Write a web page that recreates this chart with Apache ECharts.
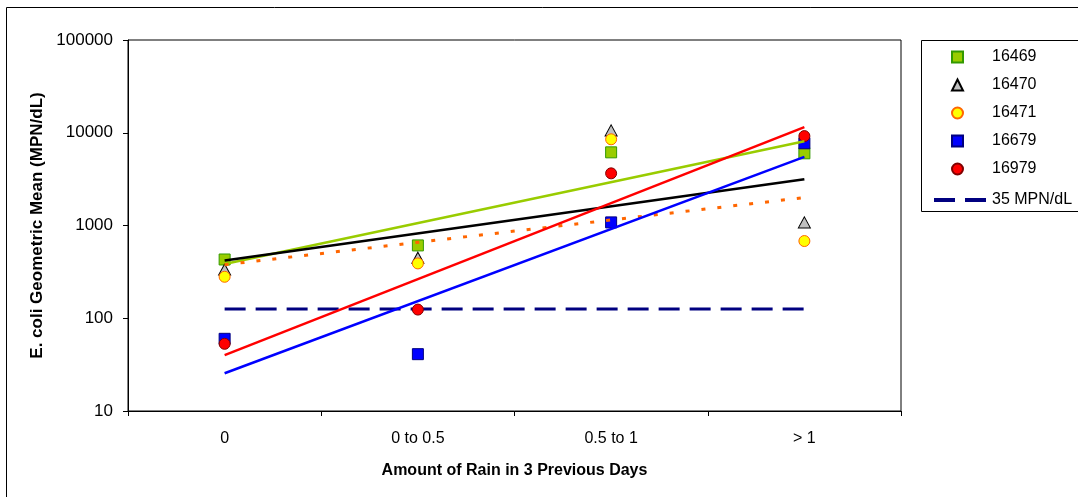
<!DOCTYPE html>
<html>
<head>
<meta charset="utf-8">
<script src="https://cdn.jsdelivr.net/npm/echarts@6/dist/echarts.min.js"></script>
<style>
  html, body { margin: 0; padding: 0; background: #fff; }
  #chart { width: 1078px; height: 497px; }
</style>
</head>
<body>
<div id="chart"></div>
<script>
// categories on the x axis
const categories = ['0', '0 to 0.5', '0.5 to 1', '> 1'];

// geometric means per station (MPN/dL)
const s16469 = [430, 610, 6150, 6000];
const s16470 = [335, 450, 10600, 1080];
const s16471 = [280, 390, 8500, 680];
const s16679 = [60, 41, 1080, 7700];
const s16979 = [53, 124, 3650, 9200];

// standard line
const standardValue = 126;

// trendline ends (first and last category)
const trendStart = [385, 420, 378, 25.5, 40];
const trendEnd = [8100, 3150, 2000, 5500, 11500];

const stations = ['16469', '16470', '16471', '16679', '16979'];
const stationData = [s16469, s16470, s16471, s16679, s16979];
const markerShape = ['rect', 'triangle', 'circle', 'rect', 'circle'];
const markerFill = ['#99CC00', '#C0C0C0', '#FFFF00', '#0000FF', '#FF0000'];
const markerBorder = ['#339900', '#000000', '#FF6600', '#000080', '#800000'];
const trendColor = ['#99CC00', '#000000', '#FF6600', '#0000FF', '#FF0000'];

const font = 'Liberation Sans, Arial, sans-serif';

let chart = echarts.init(document.getElementById('chart'), null, {renderer: 'canvas'});

let series = [];

// 35 MPN/dL dashed line
series.push({
  name: '35 MPN/dL',
  type: 'line',
  data: categories.map(() => standardValue),
  symbol: 'none',
  z: 1,
  lineStyle: {color: '#000080', width: 3, type: [21, 10]},
  itemStyle: {color: '#000080'},
  silent: true,
});

// station points
stations.forEach((name, i) => {
  series.push({
    name: name,
    type: 'scatter',
    data: stationData[i],
    symbol: markerShape[i],
    symbolSize: markerShape[i] === 'triangle' ? [12, 11] : 11,
    z: 2,
    itemStyle: {color: markerFill[i], borderColor: markerBorder[i], borderWidth: 1, opacity: 1},
  });
});

// trendlines
stations.forEach((name, i) => {
  series.push({
    name: 'trend ' + name,
    type: 'line',
    data: [[categories[0], trendStart[i]], [categories[3], trendEnd[i]]],
    symbol: 'none',
    z: 3,
    silent: true,
    lineStyle: i === 2
      ? {color: trendColor[i], width: 3, type: [4, 12]}
      : {color: trendColor[i], width: 2.5},
  });
});

chart.setOption({
  animation: false,
  backgroundColor: '#fff',
  textStyle: {fontFamily: font},
  grid: {
    left: 128,
    right: 177,
    top: 40,
    bottom: 86,
    show: true,
    borderColor: '#000',
    borderWidth: 1,
  },
  legend: [{
    orient: 'vertical',
    left: 946,
    top: 44,
    itemWidth: 11,
    itemHeight: 11,
    itemGap: 12,
    data: stations,
    textStyle: {color: '#000', fontSize: 16, fontFamily: font, padding: [0, 0, 0, 24]},
  }, {
    orient: 'vertical',
    left: 929,
    top: 187,
    itemWidth: 52,
    itemHeight: 4,
    data: [{
      name: '35 MPN/dL',
      icon: 'path://M0,0h21v4h-21zM31,0h21v4h-21z',
      itemStyle: {color: '#000080'},
    }],
    textStyle: {color: '#000', fontSize: 16, fontFamily: font, padding: [0, 0, 0, 1]},
  }],
  graphic: [{
    type: 'rect',
    silent: true,
    shape: {x: 6.5, y: 7.5, width: 1200, height: 600},
    style: {fill: null, stroke: '#000', lineWidth: 1},
  }, {
    type: 'rect',
    silent: true,
    shape: {x: 921.5, y: 40.5, width: 300, height: 171},
    style: {fill: null, stroke: '#000', lineWidth: 1},
  }],
  xAxis: {
    type: 'category',
    data: categories,
    boundaryGap: true,
    name: 'Amount of Rain in 3 Previous Days',
    nameLocation: 'middle',
    nameGap: 52,
    nameTextStyle: {color: '#000', fontSize: 16, fontWeight: 'bold', fontFamily: font},
    axisLine: {lineStyle: {color: '#000', width: 1}},
    axisTick: {show: true, alignWithLabel: false, length: 5, lineStyle: {color: '#000'}},
    axisLabel: {color: '#000', fontSize: 16, margin: 20, fontFamily: font},
    splitLine: {show: false},
  },
  yAxis: {
    type: 'log',
    logBase: 10,
    min: 10,
    max: 100000,
    name: 'E. coli Geometric Mean (MPN/dL)',
    nameLocation: 'middle',
    nameGap: 81,
    nameTextStyle: {color: '#000', fontSize: 17, fontWeight: 'bold', fontFamily: font},
    axisLine: {show: true, lineStyle: {color: '#000', width: 1}},
    axisTick: {show: true, length: 5, lineStyle: {color: '#000'}},
    axisLabel: {
      color: '#000',
      fontSize: 17,
      margin: 15,
      fontFamily: font,
      formatter: (v) => String(Math.round(v)),
    },
    splitLine: {show: false},
  },
  series: series,
});
</script>
</body>
</html>
